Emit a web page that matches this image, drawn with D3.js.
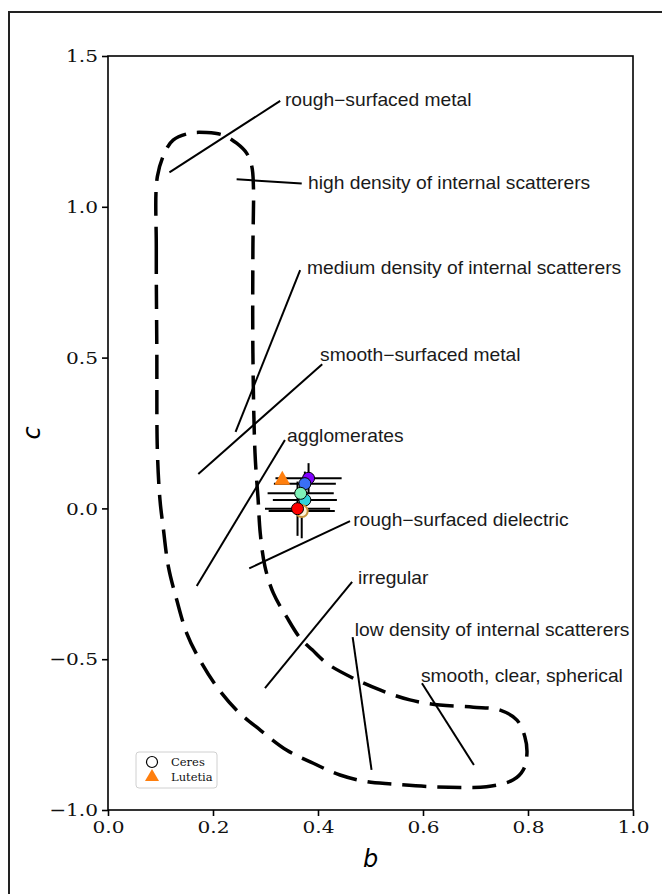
<!DOCTYPE html>
<html>
<head>
<meta charset="utf-8">
<script src="https://cdn.jsdelivr.net/npm/d3@7"></script>
<style>
  body { margin: 0; background: #fff; }
  svg { display: block; }
</style>
</head>
<body>
<svg id="chart" width="662" height="894"></svg>
<script>
// axis ticks
const xTicks = [0, 0.2, 0.4, 0.6, 0.8, 1.0];
const yTicks = [-1.0, -0.5, 0, 0.5, 1.0, 1.5];

// dashed boundary of the b-c "hockey stick" region
const boundaryB = [0.094, 0.092, 0.093, 0.094, 0.099, 0.105, 0.115, 0.131, 0.150, 0.175,
  0.207, 0.245, 0.290, 0.340, 0.391, 0.442, 0.493, 0.543, 0.607, 0.671,
  0.721, 0.772, 0.791, 0.798, 0.794, 0.779, 0.747, 0.696, 0.632, 0.575,
  0.518, 0.467, 0.417, 0.389, 0.366, 0.340, 0.315, 0.299, 0.290, 0.286,
  0.280, 0.276, 0.276, 0.277, 0.274, 0.264, 0.245, 0.219, 0.188, 0.156,
  0.124, 0.109];
const boundaryC = [1.100, 0.857, 0.525, 0.194, 0.028, -0.061, -0.193, -0.304, -0.414, -0.503,
  -0.591, -0.669, -0.735, -0.801, -0.845, -0.884, -0.906, -0.914, -0.922, -0.925,
  -0.923, -0.900, -0.867, -0.812, -0.757, -0.702, -0.669, -0.659, -0.652, -0.635,
  -0.602, -0.563, -0.514, -0.469, -0.430, -0.359, -0.281, -0.193, -0.082, 0.028,
  0.184, 0.515, 0.857, 1.067, 1.133, 1.178, 1.211, 1.238, 1.246, 1.244,
  1.221, 1.183];

// region annotations
const regionNames = ["rough\u2212surfaced metal", "high density of internal scatterers",
  "medium density of internal scatterers", "smooth\u2212surfaced metal", "agglomerates",
  "rough\u2212surfaced dielectric", "irregular", "low density of internal scatterers",
  "smooth, clear, spherical"];
const nameB = [0.337, 0.381, 0.379, 0.404, 0.341, 0.467, 0.476, 0.470, 0.596];
const nameC = [1.354, 1.081, 0.797, 0.508, 0.240, -0.038, -0.231, -0.403, -0.555];
const lineFromB = [0.328, 0.369, 0.366, 0.408, 0.337, 0.461, 0.465, 0.466, 0.598];
const lineFromC = [1.351, 1.077, 0.790, 0.478, 0.227, -0.042, -0.244, -0.427, -0.580];
const lineToB = [0.117, 0.245, 0.243, 0.172, 0.169, 0.269, 0.299, 0.502, 0.697];
const lineToC = [1.114, 1.091, 0.254, 0.114, -0.257, -0.199, -0.596, -0.867, -0.851];

// Ceres measurements (b, c with errors)
const ceresB = [0.382, 0.375, 0.375, 0.367, 0.369, 0.361];
const ceresC = [0.100, 0.082, 0.028, 0.050, -0.009, -0.001];
const ceresBErr = [0.063, 0.059, 0.061, 0.063, 0.063, 0.062];
const ceresCErr = [0.050, 0.040, 0.040, 0.040, 0.090, 0.090];
const ceresColors = ["#8000ff", "#3a6ff4", "#30d2dc", "#7ff2b8", "none", "#ff0000"];

// Lutetia
const lutetiaB = [0.332];
const lutetiaC = [0.094];

const legendNames = ["Ceres", "Lutetia"];

const svg = d3.select("#chart");

// outer figure frame
svg.append("rect")
  .attr("x", 9).attr("y", 12).attr("width", 720).attr("height", 920)
  .attr("fill", "none").attr("stroke", "#222").attr("stroke-width", 2);

const x = d3.scaleLinear().domain([0, 1]).range([108, 633]);
const y = d3.scaleLinear().domain([-1, 1.5]).range([810, 56]);

const fmt = d3.format(".1f");
const sx = 1.15; // tick labels are a bit wide in the original

const gx = svg.append("g").attr("transform", "translate(0,810)")
  .call(d3.axisBottom(x).tickValues(xTicks).tickFormat(fmt).tickSize(6).tickSizeOuter(0));
const gy = svg.append("g").attr("transform", "translate(108,0)")
  .call(d3.axisLeft(y).tickValues(yTicks).tickFormat(fmt).tickSize(6).tickSizeOuter(0));

[gx, gy].forEach(g => {
  g.select(".domain").remove();
  g.selectAll(".tick line").attr("stroke", "#000").attr("stroke-width", 1.6);
  g.selectAll(".tick text")
    .attr("fill", "#111")
    .attr("transform", `scale(${sx},1)`)
    .style("font-family", "'DejaVu Serif', serif")
    .style("font-size", "17.5px");
});
gx.selectAll(".tick text").attr("y", 11);
gy.selectAll(".tick text").attr("x", -10 / sx);

// plot frame
svg.append("rect")
  .attr("x", x(0)).attr("y", y(1.5))
  .attr("width", x(1) - x(0)).attr("height", y(-1) - y(1.5))
  .attr("fill", "none").attr("stroke", "#000").attr("stroke-width", 1.6);

// axis labels
svg.append("text")
  .attr("x", x(0.5)).attr("y", 867)
  .attr("text-anchor", "middle")
  .style("font-family", "'DejaVu Sans', sans-serif")
  .style("font-style", "italic")
  .style("font-size", "24px")
  .text("b");
svg.append("text")
  .attr("transform", `translate(40,${y(0.25)}) rotate(-90)`)
  .attr("text-anchor", "middle")
  .style("font-family", "'DejaVu Sans', sans-serif")
  .style("font-style", "italic")
  .style("font-size", "24px")
  .text("c");

// boundary
const boundary = d3.range(boundaryB.length).map(i => [boundaryB[i], boundaryC[i]]);
svg.append("path")
  .datum(boundary)
  .attr("fill", "none")
  .attr("stroke", "#000")
  .attr("stroke-width", 3.5)
  .attr("stroke-dasharray", "24,11")
  .attr("d", d3.line().x(d => x(d[0])).y(d => y(d[1])).curve(d3.curveCatmullRomClosed.alpha(0.5)));

// annotation lines and labels
const ann = svg.append("g");
ann.selectAll("line")
  .data(regionNames)
  .join("line")
  .attr("x1", (d, i) => x(lineFromB[i]))
  .attr("y1", (d, i) => y(lineFromC[i]))
  .attr("x2", (d, i) => x(lineToB[i]))
  .attr("y2", (d, i) => y(lineToC[i]))
  .attr("stroke", "#000")
  .attr("stroke-width", 2);
ann.selectAll("text")
  .data(regionNames)
  .join("text")
  .attr("transform", (d, i) => `translate(${x(nameB[i])},${y(nameC[i])}) scale(1.1,1)`)
  .attr("dy", "0.36em")
  .attr("fill", "#1a1a1a")
  .style("font-family", "'Liberation Sans', Arial, sans-serif")
  .style("font-size", "17.5px")
  .text(d => d);

// Ceres error bars
const err = svg.append("g").attr("stroke", "#000").attr("stroke-width", 2);
ceresB.forEach((b, i) => {
  err.append("line")
    .attr("x1", x(b - ceresBErr[i])).attr("x2", x(b + ceresBErr[i]))
    .attr("y1", y(ceresC[i])).attr("y2", y(ceresC[i]));
  err.append("line")
    .attr("x1", x(b)).attr("x2", x(b))
    .attr("y1", y(ceresC[i] - ceresCErr[i])).attr("y2", y(ceresC[i] + ceresCErr[i]));
});

// Lutetia marker
const tri = d3.symbol().type(d3.symbolTriangle).size(110);
svg.selectAll(".lutetia")
  .data(lutetiaB)
  .join("path")
  .attr("class", "lutetia")
  .attr("transform", (d, i) => `translate(${x(d)},${y(lutetiaC[i])})`)
  .attr("d", tri)
  .attr("fill", "#ff7f0e");

// Ceres markers
svg.selectAll(".ceres")
  .data(ceresB)
  .join("circle")
  .attr("class", "ceres")
  .attr("cx", d => x(d))
  .attr("cy", (d, i) => y(ceresC[i]))
  .attr("r", 6)
  .attr("fill", (d, i) => ceresColors[i] === "none" ? "#fff3d8" : ceresColors[i])
  .attr("stroke", (d, i) => ceresColors[i] === "none" ? "#c8963c" : "#000")
  .attr("stroke-width", (d, i) => ceresColors[i] === "none" ? 2 : 1);

// legend
const leg = svg.append("g").attr("transform", "translate(136,752)");
leg.append("rect")
  .attr("width", 81).attr("height", 36).attr("rx", 3)
  .attr("fill", "#fff").attr("stroke", "#d0d0d0").attr("stroke-width", 1);
legendNames.forEach((name, i) => {
  const row = leg.append("g").attr("transform", `translate(16,${10 + i * 15})`);
  if (i === 0) {
    row.append("circle").attr("r", 5.5).attr("fill", "none").attr("stroke", "#000").attr("stroke-width", 1.2);
  } else {
    row.append("path").attr("d", d3.symbol().type(d3.symbolTriangle).size(85)).attr("fill", "#ff7f0e");
  }
  row.append("text")
    .attr("x", 19).attr("dy", "0.35em")
    .style("font-family", "'DejaVu Serif', serif")
    .style("font-size", "11.5px")
    .attr("fill", "#111")
    .text(name);
});
</script>
</body>
</html>
